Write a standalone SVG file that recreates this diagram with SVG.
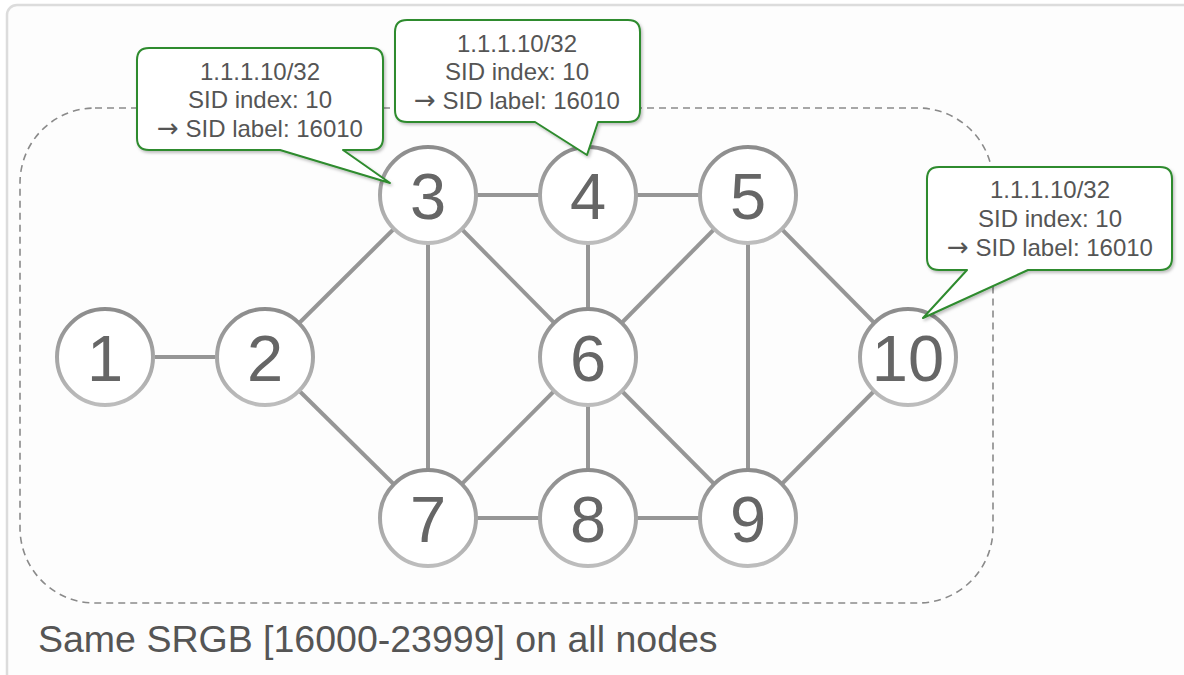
<svg xmlns="http://www.w3.org/2000/svg" width="1184" height="675" viewBox="0 0 1184 675">
  <defs>
    <linearGradient id="ringGrad" x1="0" y1="0" x2="0" y2="1">
      <stop offset="0" stop-color="#8c8c8c"/>
      <stop offset="1" stop-color="#bdbdbd"/>
    </linearGradient>
    <filter id="shadow" x="-10%" y="-10%" width="125%" height="130%">
      <feDropShadow dx="1.5" dy="2" stdDeviation="1.5" flood-color="#000" flood-opacity="0.25"/>
    </filter>
    <style>
      .frame { fill: #fdfdfd; stroke: #dcdcdc; stroke-width: 2.5; }
      .domain { fill: none; stroke: #8a8a8a; stroke-width: 1.6; stroke-dasharray: 7 5; }
      .link { stroke: #969696; stroke-width: 4; stroke-linecap: butt; }
      .ring { fill: #ffffff; stroke: url(#ringGrad); stroke-width: 4; }
      .num { font-family: "Liberation Sans", Arial, sans-serif; font-size: 65px; fill: #666666; text-anchor: middle; }
      .callout { fill: #ffffff; stroke: #2e8b2e; stroke-width: 2; stroke-linejoin: round; filter: url(#shadow); }
      .ctext { font-family: "Liberation Sans", Arial, sans-serif; font-size: 24px; fill: #555555; text-anchor: middle; }
      .arrow { font-family: "DejaVu Sans", sans-serif; font-size: 26px; }
      .caption { font-family: "Liberation Sans", Arial, sans-serif; font-size: 37.5px; fill: #555555; }
    </style>
  </defs>

  <rect width="1184" height="675" fill="#ffffff"/>
  <!-- card frame, running off the right and bottom edges -->
  <rect class="frame" x="7" y="5" width="1190" height="700" rx="10"/>

  <!-- SR domain boundary -->
  <rect class="domain" x="20" y="108" width="973" height="495" rx="75"/>

  <g id="connectors">
    <line class="link" x1="155" y1="357" x2="215" y2="357"/>
    <line class="link" x1="265" y1="357" x2="428" y2="195"/>
    <line class="link" x1="265" y1="357" x2="428" y2="518"/>
    <line class="link" x1="428" y1="195" x2="588" y2="195"/>
    <line class="link" x1="428" y1="195" x2="428" y2="518"/>
    <line class="link" x1="428" y1="195" x2="588" y2="357"/>
    <line class="link" x1="588" y1="195" x2="748" y2="195"/>
    <line class="link" x1="588" y1="195" x2="588" y2="357"/>
    <line class="link" x1="748" y1="195" x2="588" y2="357"/>
    <line class="link" x1="748" y1="195" x2="748" y2="518"/>
    <line class="link" x1="748" y1="195" x2="908" y2="357"/>
    <line class="link" x1="588" y1="357" x2="428" y2="518"/>
    <line class="link" x1="588" y1="357" x2="588" y2="518"/>
    <line class="link" x1="588" y1="357" x2="748" y2="518"/>
    <line class="link" x1="428" y1="518" x2="588" y2="518"/>
    <line class="link" x1="588" y1="518" x2="748" y2="518"/>
    <line class="link" x1="748" y1="518" x2="908" y2="357"/>
  </g>

  <g id="node-1"><circle class="ring" cx="105" cy="357" r="48"/><text class="num" x="105" y="381">1</text></g>
  <g id="node-2"><circle class="ring" cx="265" cy="357" r="48"/><text class="num" x="265" y="381">2</text></g>
  <g id="node-3"><circle class="ring" cx="428" cy="195" r="48"/><text class="num" x="428" y="219">3</text></g>
  <g id="node-4"><circle class="ring" cx="588" cy="195" r="48"/><text class="num" x="588" y="219">4</text></g>
  <g id="node-5"><circle class="ring" cx="748" cy="195" r="48"/><text class="num" x="748" y="219">5</text></g>
  <g id="node-6"><circle class="ring" cx="588" cy="357" r="48"/><text class="num" x="588" y="381">6</text></g>
  <g id="node-7"><circle class="ring" cx="428" cy="518" r="48"/><text class="num" x="428" y="542">7</text></g>
  <g id="node-8"><circle class="ring" cx="588" cy="518" r="48"/><text class="num" x="588" y="542">8</text></g>
  <g id="node-9"><circle class="ring" cx="748" cy="518" r="48"/><text class="num" x="748" y="542">9</text></g>
  <g id="node-10"><circle class="ring" cx="908" cy="357" r="48"/><text class="num" x="908" y="381">10</text></g>

  <!-- prefix-SID callouts -->
  <g id="callout-3">
    <path class="callout" d="M149,48 H371 Q383,48 383,60 V138 Q383,150 371,150 H343 L390,183 L280,150 H149 Q137,150 137,138 V60 Q137,48 149,48 Z"/>
    <text class="ctext" x="260" y="80">1.1.1.10/32</text>
    <text class="ctext" x="260" y="108">SID index: 10</text>
    <text class="ctext" x="260" y="137"><tspan class="arrow">→</tspan> SID label: 16010</text>
  </g>
  <g id="callout-4">
    <path class="callout" d="M407,20 H628 Q640,20 640,32 V110 Q640,122 628,122 H598 L587,155 L535,122 H407 Q395,122 395,110 V32 Q395,20 407,20 Z"/>
    <text class="ctext" x="517" y="52">1.1.1.10/32</text>
    <text class="ctext" x="517" y="80">SID index: 10</text>
    <text class="ctext" x="517" y="109"><tspan class="arrow">→</tspan> SID label: 16010</text>
  </g>
  <g id="callout-10">
    <path class="callout" d="M939,167 H1160 Q1172,167 1172,179 V258 Q1172,270 1160,270 H1028 L923,318 L967,270 H939 Q927,270 927,258 V179 Q927,167 939,167 Z"/>
    <text class="ctext" x="1050" y="198">1.1.1.10/32</text>
    <text class="ctext" x="1050" y="227">SID index: 10</text>
    <text class="ctext" x="1050" y="256"><tspan class="arrow">→</tspan> SID label: 16010</text>
  </g>

  <text class="caption" x="38" y="652">Same SRGB [16000-23999] on all nodes</text>
</svg>
